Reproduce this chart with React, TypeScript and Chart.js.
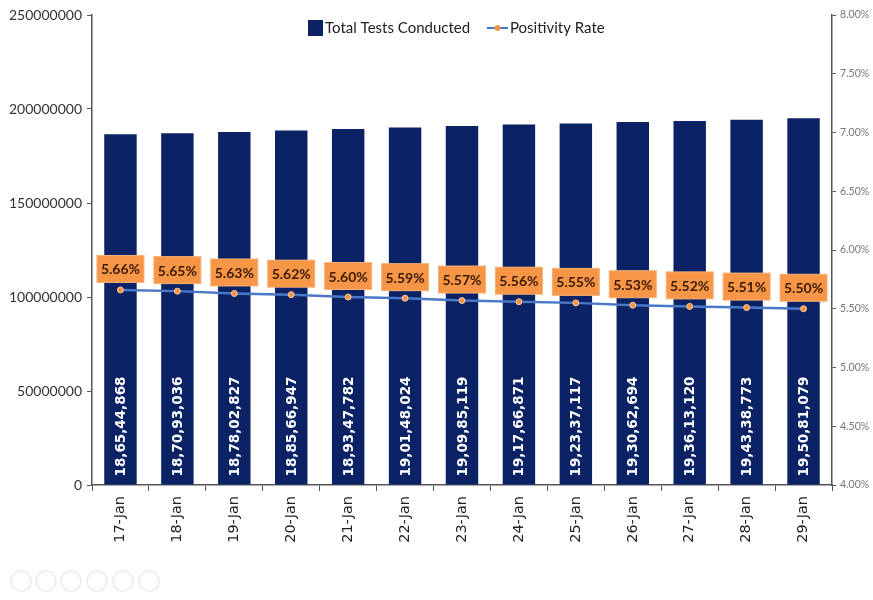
import React, { useEffect, useRef } from "react";
import { Chart, registerables } from "chart.js";

Chart.register(...registerables);

const categories = ["17-Jan", "18-Jan", "19-Jan", "20-Jan", "21-Jan", "22-Jan", "23-Jan", "24-Jan", "25-Jan", "26-Jan", "27-Jan", "28-Jan", "29-Jan"];
const totalTests = [186544868, 187093036, 187802827, 188566947, 189347782, 190148024, 190985119, 191766871, 192337117, 193062694, 193613120, 194338773, 195081079];
const positivityRate = [5.66, 5.65, 5.63, 5.62, 5.6, 5.59, 5.57, 5.56, 5.55, 5.53, 5.52, 5.51, 5.5];
const seriesNames = ["Total Tests Conducted", "Positivity Rate"];

const BAR_COLOR = "#0b2265";
const LINE_COLOR = "#4a78c8";
const ORANGE = "#f79646";

function indianFormat(n: number): string {
  const s = String(Math.round(n));
  if (s.length <= 3) return s;
  const last3 = s.slice(-3);
  let rest = s.slice(0, -3);
  const parts: string[] = [];
  while (rest.length > 2) {
    parts.unshift(rest.slice(-2));
    rest = rest.slice(0, -2);
  }
  if (rest.length) parts.unshift(rest);
  return parts.join(",") + "," + last3;
}

const labelPlugin = {
  id: "customLabels",
  afterDatasetsDraw(chart: any) {
    const ctx = chart.ctx;
    const barMeta = chart.getDatasetMeta(0);
    ctx.save();
    ctx.fillStyle = "#ffffff";
    ctx.font = "bold 13.5px 'DejaVu Sans'";
    ctx.textAlign = "left";
    ctx.textBaseline = "middle";
    barMeta.data.forEach((el: any, i: number) => {
      ctx.save();
      ctx.translate(el.x, el.base - 8);
      ctx.rotate(-Math.PI / 2);
      ctx.fillText(indianFormat(totalTests[i]), 0, 1);
      ctx.restore();
    });
    ctx.restore();

    const lineMeta = chart.getDatasetMeta(1);
    ctx.save();
    lineMeta.data.forEach((el: any, i: number) => {
      const w = 47, h = 27;
      const cx = el.x, cy = el.y - 21;
      ctx.fillStyle = ORANGE;
      ctx.fillRect(cx - w / 2, cy - h / 2, w, h);
      ctx.strokeStyle = "#f5b27a";
      ctx.lineWidth = 1;
      ctx.strokeRect(cx - w / 2, cy - h / 2, w, h);
      ctx.fillStyle = "#3a1a00";
      ctx.font = "bold 14px Lato";
      ctx.textAlign = "center";
      ctx.textBaseline = "middle";
      ctx.fillText(positivityRate[i].toFixed(2) + "%", cx, cy + 1);
    });
    ctx.restore();
  },
  afterDraw(chart: any) {
    const ctx = chart.ctx;
    ctx.save();
    // legend
    ctx.font = "15px Lato";
    ctx.textBaseline = "middle";
    ctx.textAlign = "left";
    const ly = 28;
    ctx.fillStyle = BAR_COLOR;
    ctx.fillRect(308, ly - 8, 15, 16);
    ctx.fillStyle = "#222";
    ctx.fillText(seriesNames[0], 325, ly);
    ctx.strokeStyle = LINE_COLOR;
    ctx.lineWidth = 2;
    ctx.beginPath();
    ctx.moveTo(487, ly);
    ctx.lineTo(508, ly);
    ctx.stroke();
    ctx.fillStyle = ORANGE;
    ctx.beginPath();
    ctx.arc(497.5, ly, 3, 0, Math.PI * 2);
    ctx.fill();
    ctx.fillStyle = "#222";
    ctx.fillText(seriesNames[1], 510, ly);

    // faint toolbar icons
    ctx.strokeStyle = "#ebebeb";
    ctx.lineWidth = 1.5;
    const xs = [21, 46, 71, 97, 123, 149];
    xs.forEach((x) => {
      ctx.beginPath();
      ctx.arc(x, 581, 10, 0, Math.PI * 2);
      ctx.stroke();
    });
    ctx.restore();
  },
};

export default function App() {
  const canvasRef = useRef<HTMLCanvasElement | null>(null);

  useEffect(() => {
    document.body.style.margin = "0";
    const canvas = canvasRef.current;
    if (!canvas) return;
    const axisColor = "#555555";
    const chart = new Chart(canvas, {
      type: "bar",
      data: {
        labels: categories,
        datasets: [
          {
            type: "bar",
            label: seriesNames[0],
            data: totalTests,
            backgroundColor: BAR_COLOR,
            yAxisID: "y",
            categoryPercentage: 1,
            barPercentage: 0.57,
            order: 2,
          },
          {
            type: "line",
            label: seriesNames[1],
            data: positivityRate.map((v) => v / 100),
            borderColor: LINE_COLOR,
            borderWidth: 2.5,
            pointBackgroundColor: ORANGE,
            pointBorderColor: "#f3c9a0",
            pointBorderWidth: 1,
            pointRadius: 3,
            yAxisID: "y1",
            order: 1,
          },
        ] as any,
      },
      options: {
        responsive: false,
        animation: false,
        layout: { padding: { left: 0, right: 0, top: 15, bottom: 0 } },
        plugins: {
          legend: { display: false },
          tooltip: { enabled: false },
        },
        scales: {
          x: {
            grid: { display: true, drawOnChartArea: false, drawTicks: true, tickLength: 6, color: axisColor, offset: true },
            border: { display: true, color: axisColor, width: 1.5 },
            ticks: {
              minRotation: 90,
              maxRotation: 90,
              padding: 5,
              color: "#222",
              font: { family: "'DejaVu Sans'", size: 14.5 },
            },
            afterFit(scale: any) {
              scale.height = 115;
            },
          },
          y: {
            position: "left",
            min: 0,
            max: 250000000,
            ticks: {
              stepSize: 50000000,
              color: "#333",
              padding: 5,
              font: { family: "Lato", size: 14 },
              callback: (v: any) => String(v),
            },
            grid: { display: true, drawOnChartArea: false, drawTicks: true, tickLength: 5, color: axisColor },
            border: { display: true, color: axisColor, width: 1.5 },
            afterFit(scale: any) {
              scale.width = 92;
            },
          },
          y1: {
            position: "right",
            min: 0.04,
            max: 0.08,
            ticks: {
              stepSize: 0.005,
              color: "#777",
              padding: 4,
              font: { family: "Lato", size: 10.5 },
              callback: (v: any) => (Number(v) * 100).toFixed(2) + "%",
            },
            grid: { display: true, drawOnChartArea: false, drawTicks: true, tickLength: 4, color: axisColor },
            border: { display: true, color: axisColor, width: 1.5 },
            afterFit(scale: any) {
              scale.width = 41;
            },
          },
        },
      } as any,
      plugins: [labelPlugin],
    });
    return () => chart.destroy();
  }, []);

  return (
    <div style={{ position: "absolute", left: 0, top: 0, width: 873, height: 600, background: "#fff" }}>
      <canvas ref={canvasRef} width={873} height={600} style={{ display: "block" }} />
    </div>
  );
}
